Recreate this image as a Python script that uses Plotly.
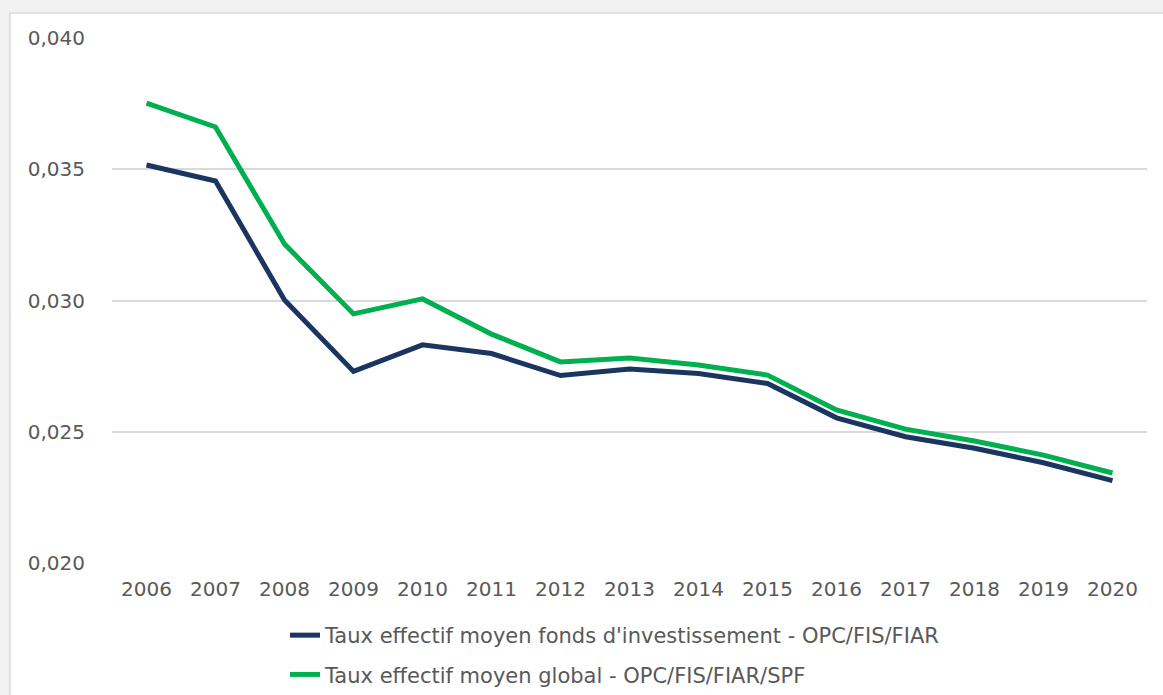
import plotly.graph_objects as go

years = ["2006", "2007", "2008", "2009", "2010", "2011", "2012", "2013",
         "2014", "2015", "2016", "2017", "2018", "2019", "2020"]
fonds = [0.03516, 0.03455, 0.03002, 0.02730, 0.02831, 0.02798, 0.02714, 0.02739,
         0.02722, 0.02684, 0.02553, 0.02481, 0.02437, 0.02382, 0.02314]
glob = [0.03752, 0.03661, 0.03215, 0.02949, 0.03006, 0.02872, 0.02766, 0.02781,
        0.02754, 0.02716, 0.02583, 0.02510, 0.02465, 0.02411, 0.02343]
name_fonds = "Taux effectif moyen fonds d'investissement - OPC/FIS/FIAR"
name_glob = "Taux effectif moyen global - OPC/FIS/FIAR/SPF"
y_ticks = [0.020, 0.025, 0.030, 0.035, 0.040]

FONT = "DejaVu Sans"
TXT = "#595959"

fig = go.Figure()
fig.add_trace(go.Scatter(x=years, y=fonds, mode="lines", name=name_fonds,
                         legendgroup="a",
                         line=dict(color="#1a3660", width=5)))
fig.add_trace(go.Scatter(x=years, y=glob, mode="lines", name=name_glob,
                         legendgroup="b",
                         line=dict(color="#00b050", width=5)))

W, H = 1163, 695
L, R, T, B = 112, 16, 38, 132
pw, ph = W - L - R, H - T - B

def px(x):
    return (x - L) / pw

def py(y):
    return (H - B - y) / ph

fig.add_shape(type="rect", xref="paper", yref="paper", layer="below",
              x0=px(10), x1=px(W + 10), y0=py(H + 10), y1=py(13),
              fillcolor="white", line=dict(color="#d9d9d9", width=1.5))

fig.update_layout(
    width=W, height=H,
    margin=dict(l=L, r=R, t=T, b=B),
    paper_bgcolor="#f2f2f2",
    plot_bgcolor="rgba(0,0,0,0)",
    separators=", ",
    font=dict(family=FONT, size=20, color=TXT),
    showlegend=True,
    legend=dict(orientation="v", x=px(285), xanchor="left",
                y=0, yref="container", yanchor="bottom",
                font=dict(family=FONT, size=21, color=TXT),
                bgcolor="rgba(0,0,0,0)", tracegroupgap=9,
                itemwidth=30),
    xaxis=dict(type="category", range=[-0.5, 14.5], showgrid=False,
               showline=False, zeroline=False, ticks="outside", ticklen=8,
               tickcolor="rgba(0,0,0,0)",
               tickfont=dict(family=FONT, size=20, color=TXT)),
    yaxis=dict(range=[0.020, 0.040], tickvals=y_ticks, tickformat=".3f",
               showgrid=True, gridcolor="#d9d9d9", gridwidth=1.5,
               showline=False, zeroline=False, ticks="outside", ticklen=22,
               tickcolor="rgba(0,0,0,0)",
               tickfont=dict(family=FONT, size=20, color=TXT)),
)

fig.write_html("out.html",
               config={"displayModeBar": False},
               post_script="document.body.style.margin='0';"
                           "document.body.style.overflow='hidden';")
